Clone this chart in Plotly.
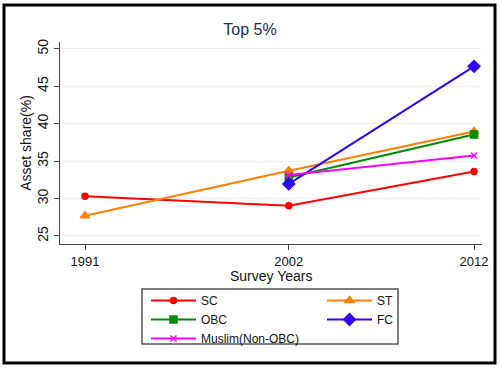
import plotly.graph_objects as go

years = [1991, 2002, 2012]
sc = [30.3, 29.05, 33.6]
st = [27.7, 33.7, 38.95]
obc = [None, 32.8, 38.55]
fc = [None, 31.95, 47.65]
muslim = [None, 33.15, 35.75]

x_ticks = [1991, 2002, 2012]
y_ticks = [25, 30, 35, 40, 45, 50]

series = [
    ("SC", sc, "#ff0000", "circle", 6, "legend"),
    ("ST", st, "#ff8000", "triangle-up", 8, "legend2"),
    ("OBC", obc, "#008c00", "square", 7, "legend"),
    ("FC", fc, "#3300ff", "diamond", 9, "legend2"),
    ("Muslim(Non-OBC)", muslim, "#ff00ff", "x-thin-open", 6, "legend"),
]

fig = go.Figure()
for name, vals, color, sym, size, leg in series:
    fig.add_trace(go.Scatter(
        x=years, y=vals, name=name, mode="lines+markers",
        line=dict(color=color, width=2),
        marker=dict(symbol=sym, size=size, color=color,
                    line=dict(color=color, width=1.5)),
        connectgaps=False, legend=leg,
    ))

L, R, T, B = 60, 18, 42, 127
W, H = 500, 371
pw, ph = W - L - R, H - T - B

def px_x(p):
    return (p - L) / pw

def px_y(p):
    return (H - B - p) / ph

leg_common = dict(
    orientation="v",
    xref="paper", yref="paper",
    xanchor="left", yanchor="top",
    borderwidth=0, bgcolor="rgba(0,0,0,0)",
    font=dict(size=12, color="#111111"),
    itemwidth=45, traceorder="normal",
)

fig.update_layout(
    width=W, height=H,
    margin=dict(l=L, r=R, t=T, b=B),
    paper_bgcolor="white", plot_bgcolor="white",
    font=dict(family="Liberation Sans, Arial, sans-serif", color="#111111"),
    title=dict(text="Top 5%", x=px_x(271), xanchor="center",
               y=1 - 29 / H, yanchor="middle",
               font=dict(size=16, color="#1e2d5c")),
    xaxis=dict(
        range=[1989.65, 2012.43], tickvals=x_ticks,
        ticktext=[str(t) for t in x_ticks],
        showgrid=False, zeroline=False,
        showline=True, linecolor="#444444", linewidth=1,
        ticks="outside", ticklen=5, tickcolor="#444444",
        tickfont=dict(size=13, color="#111111"),
        automargin=False,
    ),
    yaxis=dict(
        range=[23.93, 50.9], tickvals=y_ticks,
        showgrid=True, gridcolor="#e6f0f0", gridwidth=1,
        zeroline=False,
        showline=True, linecolor="#444444", linewidth=1,
        ticks="outside", ticklen=5, tickcolor="#444444",
        tickangle=-90,
        tickfont=dict(size=14, color="#111111"),
        title=dict(text="Asset share(%)", standoff=0,
                   font=dict(size=14, color="#111111")),
        automargin=False,
    ),
    legend=dict(x=px_x(146), y=px_y(286), **leg_common),
    legend2=dict(x=px_x(322), y=px_y(286), **leg_common),
    showlegend=True,
)

fig.add_annotation(text="Survey Years", xref="paper", yref="paper",
                   x=px_x(271), y=px_y(276), xanchor="center", yanchor="middle",
                   showarrow=False, font=dict(size=14, color="#111111"))

fig.add_shape(type="rect", xref="paper", yref="paper",
              x0=px_x(142), x1=px_x(398), y0=px_y(344), y1=px_y(289),
              line=dict(color="#555555", width=1.5), layer="below")

fig.add_shape(type="rect", xref="paper", yref="paper",
              x0=px_x(4), x1=px_x(495), y0=px_y(363), y1=px_y(5),
              line=dict(color="black", width=3), layer="below")

fig.write_html("out.html", config={"displayModeBar": False},
               post_script="document.body.style.margin='0';")
